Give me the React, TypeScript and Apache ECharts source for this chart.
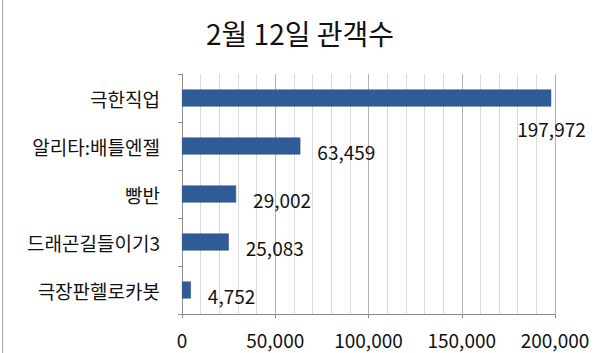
import React, { useEffect, useRef } from "react";
import * as echarts from "echarts";

const categories = ["극한직업", "알리타:배틀엔젤", "빵반", "드래곤길들이기3", "극장판헬로카봇"];
const values = [197972, 63459, 29002, 25083, 4752];
const xTicks = [0, 50000, 100000, 150000, 200000];
const titleText = "2월 12일 관객수";

const FONT = "'Noto Sans CJK KR', 'Noto Sans', sans-serif";

export default function App() {
  const ref = useRef<HTMLDivElement>(null);
  useEffect(() => {
    document.body.style.margin = "0";
    const chart = echarts.init(ref.current!, null, { renderer: "svg" });
    const data = values.map((v, i) =>
      i === 0
        ? { value: v, label: { offset: [-51, 30] } }
        : { value: v }
    );
    chart.setOption({
      animation: false,
      backgroundColor: "#ffffff",
      title: {
        text: titleText,
        left: "center",
        top: 14,
        textStyle: { fontFamily: FONT, fontSize: 28, fontWeight: "normal", color: "#111" },
      },
      graphic: [
        {
          type: "line",
          shape: { x1: 2.5, y1: 0, x2: 2.5, y2: 353 },
          style: { stroke: "#a8a8a8", lineWidth: 1 },
        },
      ],
      grid: { left: 182, right: 45, top: 74, bottom: 39, containLabel: false },
      xAxis: {
        type: "value",
        min: xTicks[0],
        max: xTicks[xTicks.length - 1],
        interval: 50000,
        axisLine: { show: true, lineStyle: { color: "#8c8c8c" } },
        axisTick: { show: true, length: 4, lineStyle: { color: "#8c8c8c" } },
        axisLabel: {
          margin: 16,
          fontFamily: FONT,
          fontSize: 19,
          color: "#111",
          formatter: (v: number) => v.toLocaleString("en-US"),
        },
        splitLine: { show: true, lineStyle: { color: "#b3b3b3" } },
        minorTick: { show: false, splitNumber: 5 },
        minorSplitLine: { show: true, lineStyle: { color: "#dadada" } },
      },
      yAxis: {
        type: "category",
        inverse: true,
        data: categories,
        axisLine: { show: true, lineStyle: { color: "#8c8c8c" } },
        axisTick: { show: true, length: 4, lineStyle: { color: "#8c8c8c" } },
        axisLabel: { margin: 22, fontFamily: FONT, fontSize: 19, color: "#111" },
        splitLine: { show: false },
      },
      series: [
        {
          type: "bar",
          data,
          barWidth: 17,
          itemStyle: { color: "#2f5c97", borderColor: "#284f84", borderWidth: 0.5 },
          label: {
            show: true,
            position: "right",
            distance: 17,
            offset: [0, 5],
            fontFamily: FONT,
            fontSize: 19,
            color: "#111",
            formatter: (p: any) => Number(p.value).toLocaleString("en-US"),
          },
        },
      ],
    });
    return () => chart.dispose();
  }, []);
  return (
    <div
      ref={ref}
      style={{ position: "fixed", left: 0, top: 0, width: 600, height: 353 }}
    />
  );
}
